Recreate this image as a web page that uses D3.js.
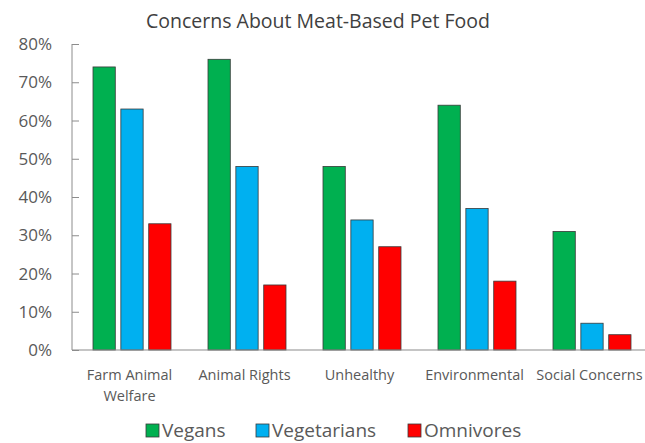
<!DOCTYPE html>
<html><head><meta charset="utf-8">
<script src="https://cdn.jsdelivr.net/npm/d3@7"></script>
<style>body{margin:0;background:#fff}svg{display:block}</style>
</head><body><div id="c"></div>
<script>
const title = "Concerns About Meat-Based Pet Food";
const categories = [["Farm Animal","Welfare"],["Animal Rights"],["Unhealthy"],["Environmental"],["Social Concerns"]];
const seriesNames = ["Vegans","Vegetarians","Omnivores"];
const vegans = [74,76,48,64,31];
const vegetarians = [63,48,34,37,7];
const omnivores = [33,17,27,18,4];
const yTicks = [0,10,20,30,40,50,60,70,80];
const colors = ["#00B050","#00B0F0","#FF0000"];

const W=645,H=443;
const svg=d3.select("#c").append("svg").attr("width",W).attr("height",H);
const font="'Open Sans', Lato, sans-serif";
const txt="#595959";
const x=d3.scaleBand().domain(d3.range(categories.length)).range([72,647]);
const y=d3.scaleLinear().domain([0,80]).range([350,44]);
const inner=d3.scaleBand().domain(seriesNames).range([21,99]).paddingInner(0.2);
const series=[vegans,vegetarians,omnivores];

svg.append("text").attr("x",318).attr("y",28).attr("text-anchor","middle")
 .attr("font-family",font).attr("font-size",19.5).attr("fill","#404040").text(title);

// y axis
const ya=svg.append("g").attr("transform","translate(72,0)")
 .call(d3.axisRight(y).tickValues(yTicks).tickSize(7).tickFormat(""));
ya.select(".domain").remove();
ya.selectAll("line").attr("stroke","#8c8c8c");
svg.append("line").attr("x1",72).attr("x2",72).attr("y1",44).attr("y2",350).attr("stroke","#8c8c8c");
svg.selectAll(".yl").data(yTicks).enter().append("text")
 .attr("x",52).attr("y",d=>y(d)+6).attr("text-anchor","end")
 .attr("font-family",font).attr("font-size",17).attr("fill",txt).text(d=>d+"%");

// bars
series.forEach((vals,si)=>{
 svg.selectAll(".b"+si).data(vals).enter().append("rect")
  .attr("x",(d,i)=>x(i)+inner(seriesNames[si]))
  .attr("y",d=>y(d)).attr("width",inner.bandwidth()).attr("height",d=>y(0)-y(d))
  .attr("fill",colors[si]).attr("stroke","#3a3a3a").attr("stroke-width",0.8);
});

// x axis
svg.append("line").attr("x1",72).attr("x2",645).attr("y1",350).attr("y2",350).attr("stroke","#8c8c8c").attr("stroke-width",1.2);
categories.forEach((lines,i)=>{
 const t=svg.append("text").attr("text-anchor","middle").attr("font-family",font)
  .attr("font-size",14.5).attr("fill",txt);
 lines.forEach((l,j)=>t.append("tspan").attr("x",x(i)+x.bandwidth()/2).attr("y",380+j*21).text(l));
});

// legend
const leg=[{x:146,tx:162},{x:256,tx:272},{x:408,tx:424}];
seriesNames.forEach((n,i)=>{
 svg.append("rect").attr("x",leg[i].x).attr("y",424).attr("width",13).attr("height",13)
  .attr("fill",colors[i]).attr("stroke","#3a3a3a").attr("stroke-width",0.8);
 svg.append("text").attr("x",leg[i].tx).attr("y",437).attr("font-family",font)
  .attr("font-size",19).attr("fill",txt).text(n);
});
</script></body></html>
